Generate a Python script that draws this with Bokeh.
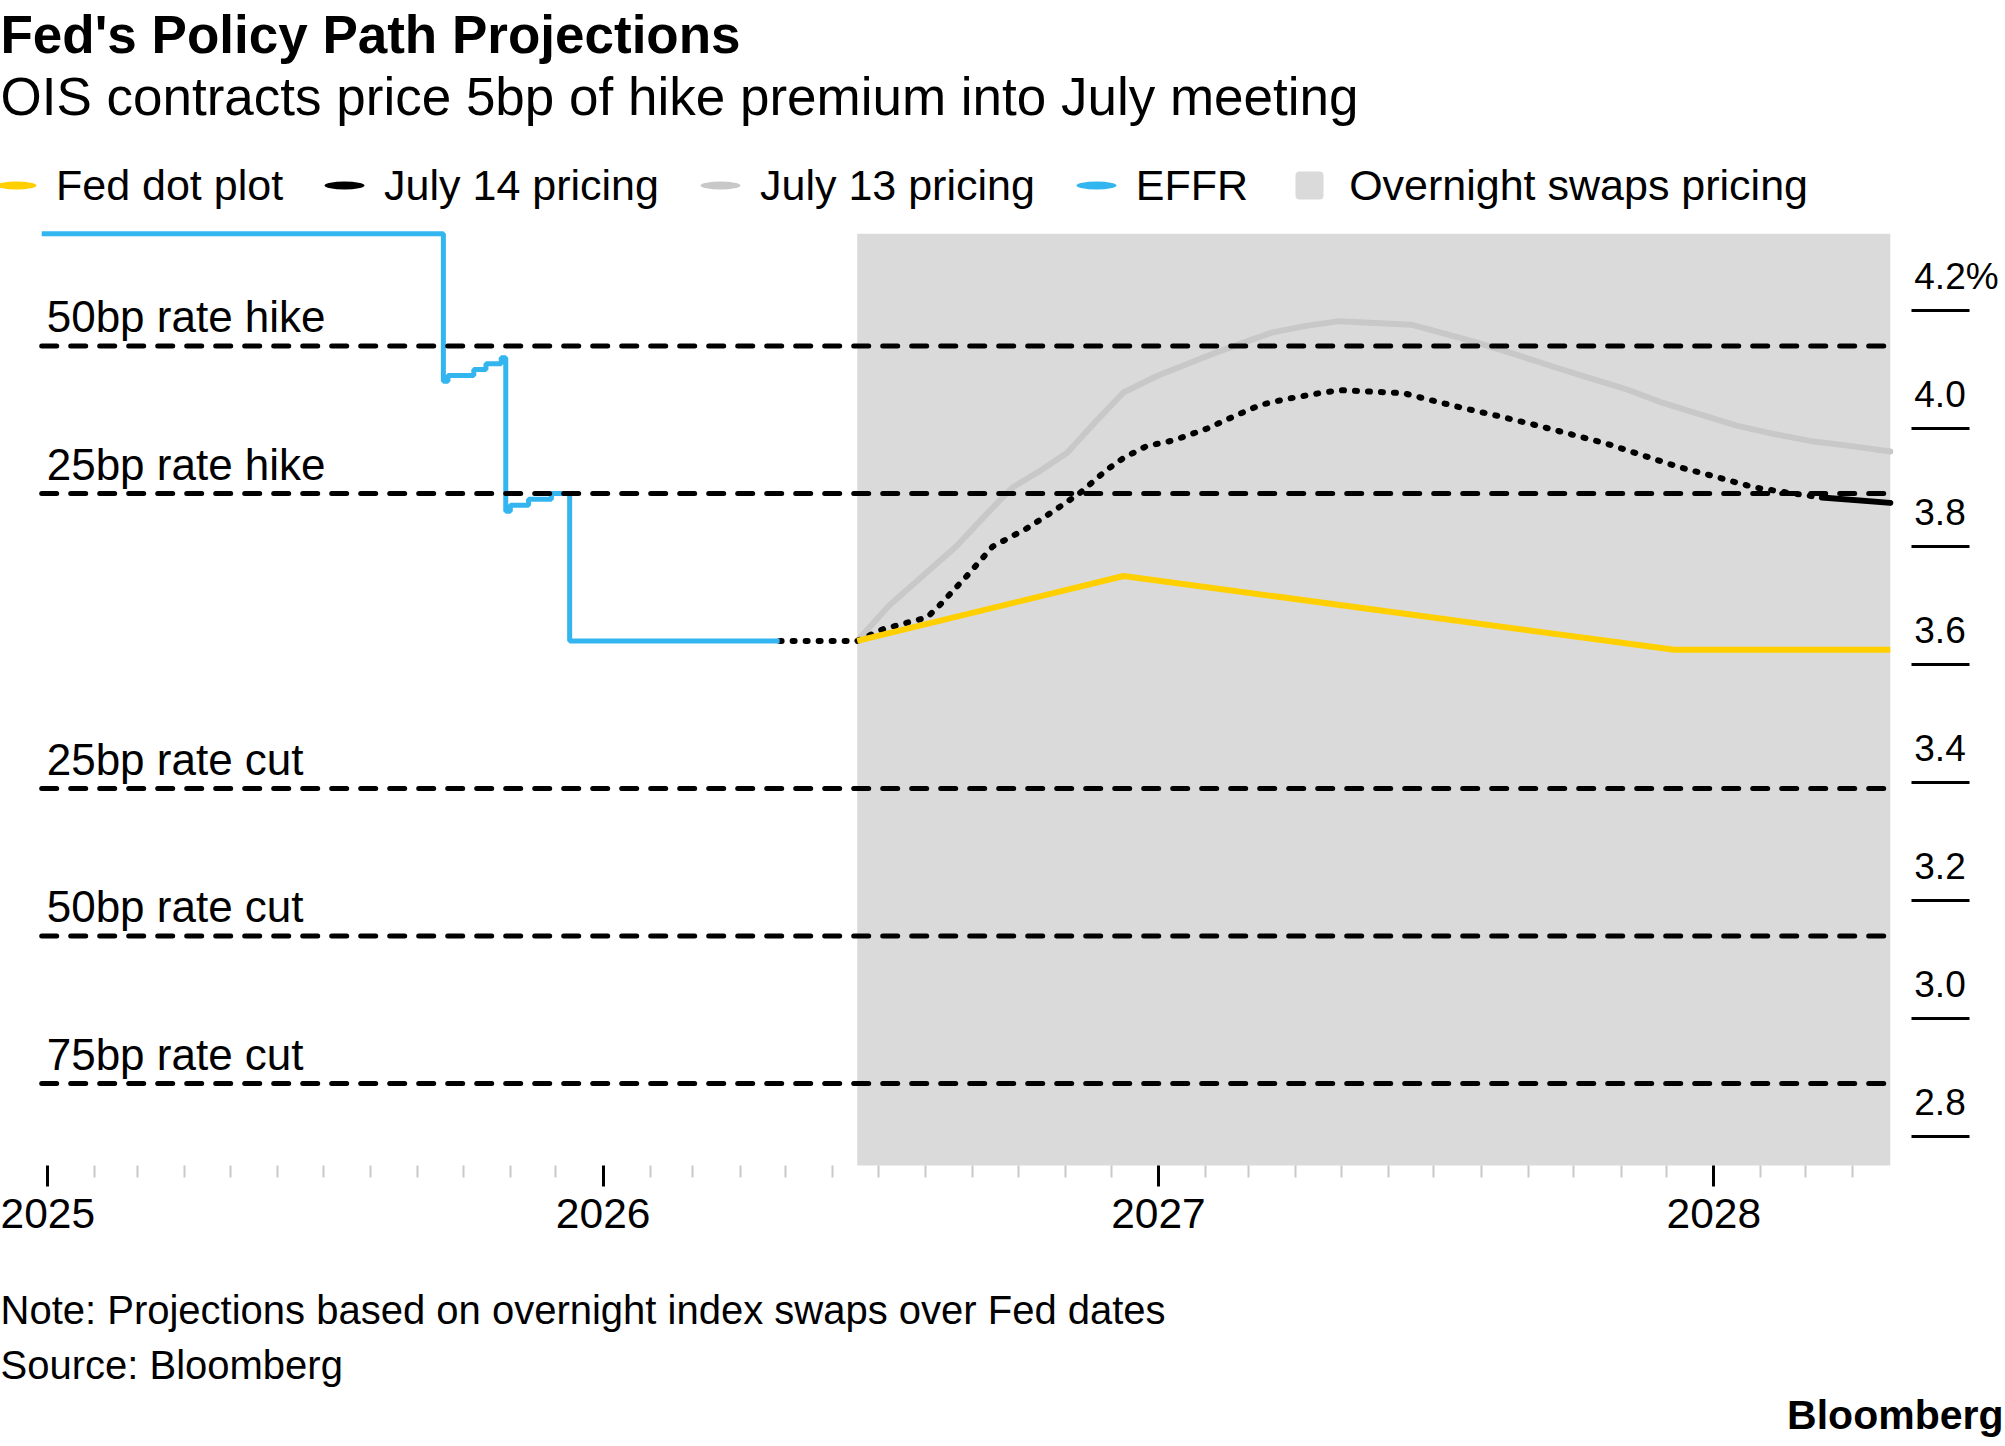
import math
import pandas as pd
from bokeh.plotting import figure
from bokeh.models import (Range1d, LinearAxis, FixedTicker, DatetimeTickFormatter,
                          CustomJSTickFormatter, Title, Legend, LegendItem,
                          ColumnDataSource)
from bokeh.core.properties import value
from bokeh.embed import file_html
from bokeh.resources import INLINE

# ---------------- data ----------------
effr_dates = ["2024-12-28", "2025-09-18", "2025-09-21", "2025-10-08", "2025-10-16",
              "2025-10-26", "2025-10-29", "2025-11-01", "2025-11-13", "2025-11-28",
              "2025-12-10", "2026-04-27"]
effr_rate = [4.33, 4.08, 4.09, 4.10, 4.11, 4.12, 3.86, 3.87, 3.88, 3.89, 3.64, 3.64]

july14_dates = ["2026-04-27", "2026-06-17", "2026-07-04", "2026-08-02", "2026-08-10",
                "2026-08-28", "2026-09-14", "2026-10-06", "2026-10-24", "2026-11-10",
                "2026-11-28", "2026-12-09", "2026-12-24", "2027-01-11", "2027-02-02",
                "2027-02-19", "2027-03-09", "2027-03-26", "2027-04-17", "2027-04-30",
                "2027-05-18", "2027-06-11", "2027-06-26", "2027-07-18", "2027-08-11",
                "2027-09-04", "2027-09-28", "2027-10-23", "2027-11-16", "2027-12-10",
                "2028-01-04", "2028-01-28", "2028-02-22", "2028-03-12", "2028-04-26"]
july14_rate = [3.64, 3.64, 3.66, 3.68, 3.70, 3.75, 3.80, 3.83, 3.86, 3.89,
               3.93, 3.95, 3.97, 3.98, 4.00, 4.02, 4.04, 4.05, 4.06, 4.065,
               4.063, 4.06, 4.05, 4.036, 4.022, 4.007, 3.991, 3.974, 3.954, 3.934,
               3.917, 3.90, 3.89, 3.883, 3.874]
july14_solid_from = "2028-03-12"

july13_dates = ["2026-06-17", "2026-07-08", "2026-07-30", "2026-08-21", "2026-09-10",
                "2026-09-27", "2026-10-15", "2026-11-02", "2026-11-19", "2026-12-09",
                "2026-12-31", "2027-02-02", "2027-02-23", "2027-03-17", "2027-04-08",
                "2027-04-30", "2027-06-16", "2027-07-05", "2027-07-29", "2027-08-23",
                "2027-09-16", "2027-10-11", "2027-11-04", "2027-11-28", "2027-12-23",
                "2028-01-16", "2028-02-09", "2028-03-04", "2028-03-29", "2028-04-26"]
july13_rate = [3.64, 3.70, 3.75, 3.80, 3.855, 3.90, 3.928, 3.959, 4.007, 4.061,
               4.089, 4.123, 4.143, 4.163, 4.174, 4.182, 4.176, 4.163, 4.146, 4.126,
               4.106, 4.086, 4.067, 4.044, 4.024, 4.005, 3.991, 3.979, 3.971, 3.961]

dot_dates = ["2026-06-17", "2026-12-09", "2027-12-06", "2028-04-26"]
dot_rate = [3.64, 3.75, 3.625, 3.625]

swaps_window = ["2026-06-17", "2028-04-26"]
swaps_top = 4.33

current_rate = 3.64
move_bp = [50, 25, -25, -50, -75]
move_labels = ["50bp rate hike", "25bp rate hike", "25bp rate cut", "50bp rate cut", "75bp rate cut"]
lines_span = ["2024-12-28", "2028-04-26"]

year_ticks = ["2025", "2026", "2027", "2028"]
y_ticks = [2.8, 3.0, 3.2, 3.4, 3.6, 3.8, 4.0, 4.2]

legend_labels = ["Fed dot plot", "July 14 pricing", "July 13 pricing", "EFFR", "Overnight swaps pricing"]

title_text = "Fed's Policy Path Projections"
subtitle_text = "OIS contracts price 5bp of hike premium into July meeting"
note_text = "Note: Projections based on overnight index swaps over Fed dates"
source_text = "Source: Bloomberg"
brand_text = "Bloomberg"

# ---------------- style / layout ----------------
FONT = "Liberation Sans"
YELLOW = "#ffcf00"
BLUE = "#33b5ef"
GRAY_LINE = "#c8c8c8"
GRAY_BG = "#dadada"

W, H = 2005, 1446
FRAME_T, FRAME_B = 125, 1280
X0 = pd.Timestamp("2024-11-30 22:00")
X1 = pd.Timestamp("2028-07-10 17:00")
Y0, Y1 = 2.556, 4.5136
AXIS_BASE = 2.751          # value at the bottom edge of the chart area
LABEL_RAISE_PX = 34

td = lambda xs: pd.to_datetime(xs)
ms = lambda s: pd.Timestamp(s).value / 1e6
X_END = td(swaps_window)[1]

p = figure(width=W, height=H, x_axis_type="datetime", y_axis_location=None, title=None,
           x_range=Range1d(X0, X1), y_range=Range1d(Y0, Y1),
           output_backend="svg", toolbar_location=None,
           min_border_left=0, min_border_right=0,
           min_border_top=FRAME_T, min_border_bottom=H - FRAME_B)
p.outline_line_color = None
p.background_fill_color = "white"
p.border_fill_color = "white"
p.grid.visible = False

# gray projection window
p.quad(left=[td(swaps_window)[0]], right=[X_END], bottom=[AXIS_BASE], top=[swaps_top],
       fill_color=GRAY_BG, line_color=None)

# July 13 pricing
p.line(td(july13_dates), july13_rate, line_color=GRAY_LINE, line_width=6,
       line_join="round", line_cap="round")

# July 14 pricing: dotted, with solid tail
k = july14_dates.index(july14_solid_from)
p.line(td(july14_dates[:k + 1]), july14_rate[:k + 1], line_color="black", line_width=6,
       line_dash="2 11", line_cap="round")
p.line(td(july14_dates[k:]), july14_rate[k:], line_color="black", line_width=6,
       line_cap="round")

# EFFR
p.step(td(effr_dates), effr_rate, mode="after", line_color=BLUE, line_width=5)

# Fed dot plot
p.line(td(dot_dates), dot_rate, line_color=YELLOW, line_width=6, line_join="round")

# hike / cut reference lines
levels = [current_rate + b / 100 for b in move_bp]
n = len(levels)
ls = td(lines_span)
ref_src = ColumnDataSource(dict(x0=[ls[0]] * n, x1=[ls[1]] * n, y=levels, t=move_labels))
p.segment(x0="x0", y0="y", x1="x1", y1="y", source=ref_src, line_color="black",
          line_width=5, line_dash="15 14", line_cap="round")
p.text(x="x0", y="y", text="t", source=ref_src, x_offset=5, y_offset=-29,
       text_font=value(FONT), text_font_size="44px", text_baseline="alphabetic",
       text_color="black")

# x axis, drawn along the bottom edge of the chart area
xa = p.xaxis[0]
xa.fixed_location = AXIS_BASE
year_ms = [ms(y + "-01-01") for y in year_ticks]
months = pd.date_range(year_ticks[0] + "-01-01", X_END, freq="MS")
month_ms = [m.value / 1e6 for m in months if m.month != 1]
xa.ticker = FixedTicker(ticks=year_ms, minor_ticks=month_ms)
fmt = "%Y"
xa.formatter = DatetimeTickFormatter(years=fmt, months=fmt, days=fmt, hours=fmt, hourmin=fmt,
                                     minutes=fmt, minsec=fmt, seconds=fmt,
                                     milliseconds=fmt, microseconds=fmt)
xa.axis_line_color = None
xa.major_tick_in = 0
xa.major_tick_out = 21
xa.major_tick_line_width = 3
xa.major_tick_line_color = "black"
xa.minor_tick_in = 0
xa.minor_tick_out = 12
xa.minor_tick_line_width = 2
xa.minor_tick_line_color = "#c9c9c9"
xa.major_label_text_font = FONT
xa.major_label_text_font_size = "42.5px"
xa.major_label_text_color = "black"
xa.major_label_standoff = 13

# right value axis: labels sit above short tick bars
d = LABEL_RAISE_PX * (Y1 - Y0) / (FRAME_B - FRAME_T)
p.extra_y_ranges = {"ylab": Range1d(Y0 - d, Y1 - d)}
ya = LinearAxis(y_range_name="ylab", fixed_location=X_END.value / 1e6,
                ticker=FixedTicker(ticks=y_ticks, minor_ticks=[t - d for t in y_ticks]),
                formatter=CustomJSTickFormatter(args=dict(top=max(y_ticks)), code="""
                    return Math.abs(tick - top) < 1e-9 ? tick.toFixed(1) + '%' : tick.toFixed(1);
                """))
ya.axis_line_color = None
ya.major_tick_line_color = None
ya.major_tick_in = 0
ya.major_tick_out = 0
ya.minor_tick_in = -21
ya.minor_tick_out = 79
ya.minor_tick_line_width = 3
ya.minor_tick_line_color = "black"
ya.major_label_standoff = -55
ya.major_label_text_font = FONT
ya.major_label_text_font_size = "37px"
ya.major_label_text_color = "black"
p.add_layout(ya, "right")

# legend
nan = float("nan")
ANG = math.radians(52)
sw = []
for col in [YELLOW, "black", GRAY_LINE, BLUE]:
    sw.append(p.ellipse(x=[nan], y=[nan], width=40, height=8, angle=ANG,
                        width_units="screen", height_units="screen",
                        fill_color=col, line_color=None))
sw.append(p.scatter(x=[nan], y=[nan], marker="square", size=20, fill_color=GRAY_BG,
                    line_color=GRAY_BG, line_width=8, line_join="round"))
legend = Legend(items=[LegendItem(label=l, renderers=[r]) for l, r in zip(legend_labels, sw)],
                location=(-9, FRAME_B - 210), orientation="horizontal",
                glyph_width=50, glyph_height=50, label_height=50,
                label_standoff=15, spacing=36,
                padding=0, margin=0, border_line_color=None, background_fill_alpha=0,
                label_text_font=FONT, label_text_font_size="43px", label_text_color="black")
p.add_layout(legend)

# titles and footers
def title(text, size, standoff, style="normal", align="left", offset=0):
    return Title(text=text, text_font=FONT, text_font_size=f"{size}px", text_font_style=style,
                 text_color="black", align=align, standoff=standoff, offset=offset)

p.add_layout(title(subtitle_text, 53, 0), "above")
p.add_layout(title(title_text, 53, 2, "bold"), "above")
p.add_layout(title(note_text, 40, 11), "below")
p.add_layout(title(source_text, 40, 6), "below")
p.add_layout(title(brand_text, 41, 0, "bold", "right", 2), "below")

open("out.html", "w").write(file_html(p, INLINE, title="Fed's Policy Path Projections"))
